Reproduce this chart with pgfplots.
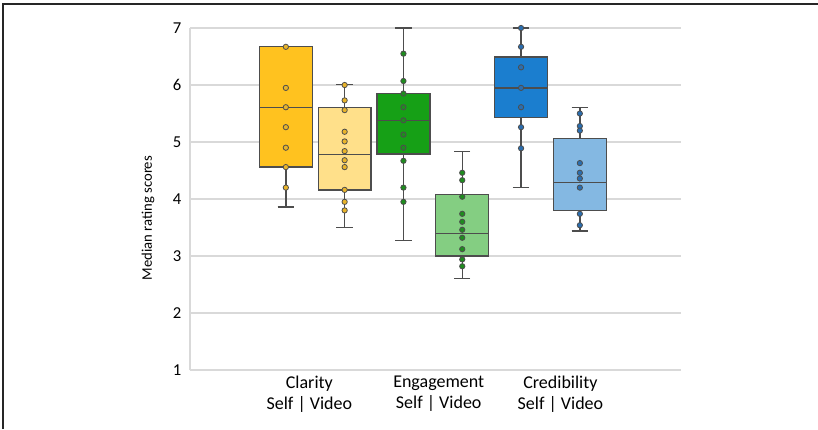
\documentclass[border=0pt]{standalone}
\usepackage{pgfplots}
\pgfplotsset{compat=1.18}
\usepgfplotslibrary{statistics}
\usepackage{fontspec}
\setmainfont{Carlito}
\definecolor{cA}{HTML}{FFC21F}
\definecolor{cB}{HTML}{FFE08A}
\definecolor{cC}{HTML}{16A016}
\definecolor{cD}{HTML}{84CE82}
\definecolor{cE}{HTML}{1B7ECF}
\definecolor{cF}{HTML}{84B8E2}
\definecolor{dA}{HTML}{E9B42A}
\definecolor{dC}{HTML}{1E8C1E}
\definecolor{dE}{HTML}{2A6EB0}
\definecolor{edge}{HTML}{4D4D4D}
\definecolor{gridg}{HTML}{D9D9D9}
\begin{document}
\begin{tikzpicture}
\useasboundingbox (0,0) rectangle (613.5pt,321.75pt);
\draw[line width=1.5pt,color=black!85] (2.6pt,0) -- (2.6pt,319.1pt) -- (613.5pt,319.1pt);
\begin{axis}[
  at={(142.5pt,44.25pt)}, anchor=south west,
  scale only axis, width=368.25pt, height=256.5pt,
  xmin=-1.63, xmax=6.72, ymin=1, ymax=7,
  ytick={1,2,3,4,5,6,7},
  xtick={0.4,2.6,4.67},
  xticklabels={{Clarity\\Self | Video},{Engagement\\Self | Video},{Credibility\\Self | Video}},
  xticklabel style={align=center, font=\fontsize{13.5}{16}\selectfont, yshift=-1pt},
  yticklabel style={font=\fontsize{12.5}{14}\selectfont, xshift=-3pt},
  /pgf/number format/assume math mode=true,
  major tick length=0pt,
  ymajorgrids, grid style={draw=gridg, line width=0.9pt},
  axis y line*=left, axis x line*=bottom,
  x axis line style={draw=none},
  y axis line style={draw=gridg, line width=0.9pt, -},
  ylabel={Median rating scores},
  ylabel style={font=\fontsize{11}{12}\selectfont, at={(axis description cs:-0.0855,0.444)}, anchor=center},
  boxplot/draw direction=y,
  clip=false,
]
\addplot[boxplot prepared={draw position=0, lower whisker=3.86, lower quartile=4.56, median=5.61, upper quartile=6.67, upper whisker=6.67, box extend=0.9, whisker extend=0.28}, fill=cA, draw=edge, line width=1pt] coordinates {};
\addplot[boxplot prepared={draw position=1, lower whisker=3.50, lower quartile=4.16, median=4.78, upper quartile=5.61, upper whisker=6.01, box extend=0.9, whisker extend=0.28}, fill=cB, draw=edge, line width=1pt] coordinates {};
\addplot[boxplot prepared={draw position=2, lower whisker=3.27, lower quartile=4.79, median=5.38, upper quartile=5.85, upper whisker=7.00, box extend=0.9, whisker extend=0.28}, fill=cC, draw=edge, line width=1pt] coordinates {};
\addplot[boxplot prepared={draw position=3, lower whisker=2.60, lower quartile=3.00, median=3.40, upper quartile=4.08, upper whisker=4.83, box extend=0.9, whisker extend=0.28}, fill=cD, draw=edge, line width=1pt] coordinates {};
\addplot[boxplot prepared={draw position=4, lower whisker=4.20, lower quartile=5.43, median=5.95, upper quartile=6.49, upper whisker=7.00, box extend=0.9, whisker extend=0.28}, fill=cE, draw=edge, line width=1pt] coordinates {};
\addplot[boxplot prepared={draw position=5, lower whisker=3.44, lower quartile=3.80, median=4.29, upper quartile=5.06, upper whisker=5.61, box extend=0.9, whisker extend=0.28}, fill=cF, draw=edge, line width=1pt] coordinates {};
% points
\addplot[only marks, mark=*, mark size=2pt, mark options={fill=dA, draw=edge, line width=0.6pt}] coordinates {
(0,6.67) (0,5.95) (0,5.61) (0,5.26) (0,4.90) (0,4.56) (0,4.20)};
\addplot[only marks, mark=*, mark size=2pt, mark options={fill=dA, draw=edge, line width=0.6pt}] coordinates {
(1,6.00) (1,5.73) (1,5.56) (1,5.18) (1,5.01) (1,4.84) (1,4.68) (1,4.56) (1,4.16) (1,3.95) (1,3.80)};
\addplot[only marks, mark=*, mark size=2pt, mark options={fill=dC, draw=edge, line width=0.6pt}] coordinates {
(2,6.55) (2,6.07) (2,5.85) (2,5.61) (2,5.38) (2,5.13) (2,4.90) (2,4.67) (2,4.20) (2,3.95)};
\addplot[only marks, mark=*, mark size=2pt, mark options={fill=dC, draw=edge, line width=0.6pt}] coordinates {
(3,4.46) (3,4.33) (3,4.04) (3,3.74) (3,3.60) (3,3.46) (3,3.32) (3,3.12) (3,2.94) (3,2.82)};
\addplot[only marks, mark=*, mark size=2pt, mark options={fill=dE, draw=edge, line width=0.6pt}] coordinates {
(4,7.00) (4,6.67) (4,6.31) (4,5.95) (4,5.61) (4,5.26) (4,4.89)};
\addplot[only marks, mark=*, mark size=2pt, mark options={fill=dE, draw=edge, line width=0.6pt}] coordinates {
(5,5.50) (5,5.28) (5,5.20) (5,4.63) (5,4.46) (5,4.36) (5,4.20) (5,3.74) (5,3.54)};
\end{axis}
\end{tikzpicture}
\end{document}
